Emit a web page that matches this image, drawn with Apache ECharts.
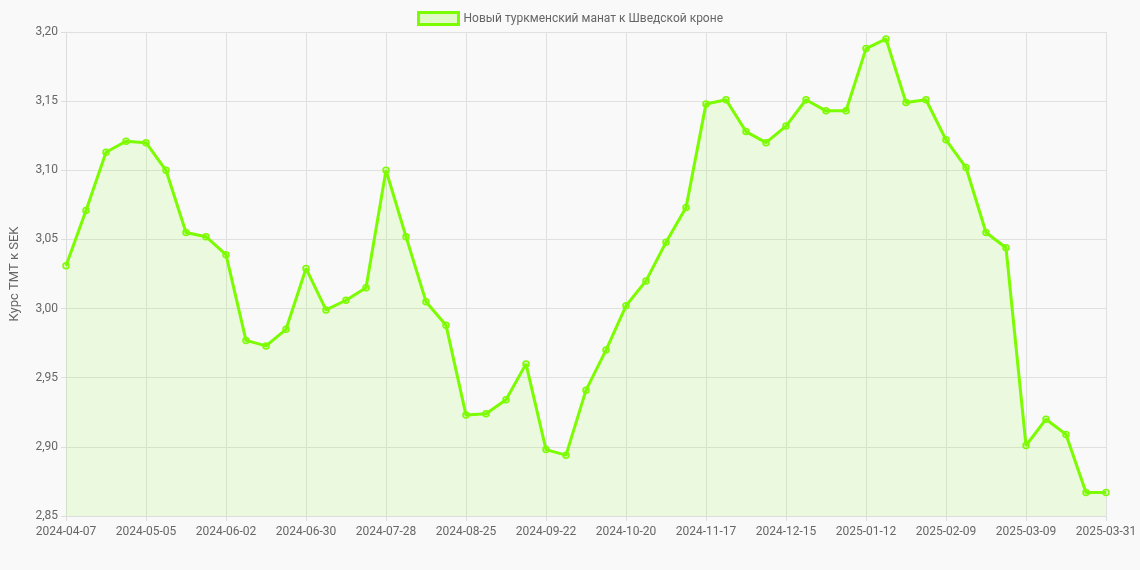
<!DOCTYPE html><html><head><meta charset="utf-8"><script src="https://cdn.jsdelivr.net/npm/echarts@6/dist/echarts.min.js"></script>
<style>body{margin:0;background:#f9f9f9}#c{width:1140px;height:570px}</style></head><body><div id="c"></div><script>
const values=[3.031,3.071,3.113,3.121,3.120,3.100,3.055,3.052,3.039,2.977,2.973,2.985,3.029,2.999,3.006,3.015,3.100,3.052,3.005,2.988,2.923,2.924,2.934,2.960,2.898,2.894,2.941,2.970,3.002,3.020,3.048,3.073,3.148,3.151,3.128,3.120,3.132,3.151,3.143,3.143,3.188,3.195,3.149,3.151,3.122,3.102,3.055,3.044,2.901,2.920,2.909,2.867,2.867];
const categories=[];
{let d=new Date(Date.UTC(2024,3,7));for(let i=0;i<52;i++){categories.push(d.toISOString().slice(0,10));d=new Date(d.getTime()+7*864e5);}categories.push('2025-03-31');}
const seriesName='Новый туркменский манат к Шведской кроне';
const c=echarts.init(document.getElementById('c'));
c.setOption({backgroundColor:'#f9f9f9',textStyle:{fontFamily:'Roboto, sans-serif'},
legend:{top:6,itemWidth:40,itemHeight:12,textStyle:{color:'#666',fontSize:12},data:[{name:seriesName,icon:'rect',itemStyle:{color:'rgba(124,252,0,0.2)',borderColor:'#7cfc00',borderWidth:3}}]},
grid:{left:62,right:34,top:32,bottom:54},
xAxis:{type:'category',boundaryGap:false,data:categories,axisLabel:{interval:3,color:'#666',fontSize:12,margin:10},axisTick:{show:true,interval:3,length:5,lineStyle:{color:'#ddd'}},axisLine:{lineStyle:{color:'#ddd'}},splitLine:{show:true,interval:3,lineStyle:{color:'#e0e0e0'}}},
yAxis:{type:'value',min:2.85,max:3.2,interval:0.05,name:'Курс TMT к SEK',nameLocation:'middle',nameGap:45,nameTextStyle:{color:'#666',fontSize:13},axisLabel:{color:'#666',fontSize:12,formatter:v=>v.toFixed(2).replace('.',',')},axisLine:{show:true,lineStyle:{color:'#ddd'}},axisTick:{show:true,length:5,lineStyle:{color:'#ddd'}},splitLine:{lineStyle:{color:'#e0e0e0'}}},
series:[{name:seriesName,type:'line',data:values,symbol:'circle',symbolSize:6,showAllSymbol:true,itemStyle:{color:'rgba(124,252,0,0.2)',borderColor:'#7cfc00',borderWidth:1.5},lineStyle:{color:'#7cfc00',width:3},areaStyle:{color:'rgba(124,252,0,0.15)'}}]});
</script></body></html>
